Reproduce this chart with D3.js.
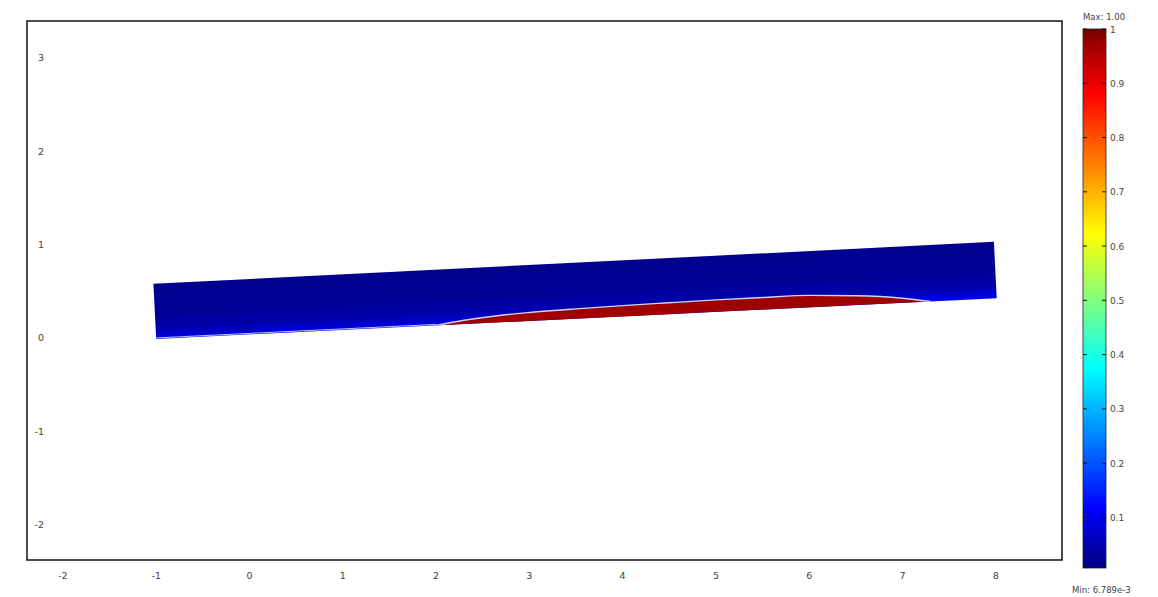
<!DOCTYPE html>
<html>
<head>
<meta charset="utf-8">
<script src="https://cdn.jsdelivr.net/npm/d3@7"></script>
<style>
  body { margin: 0; background: #fff; }
  svg { display: block; font-family: "DejaVu Sans", sans-serif; }
</style>
</head>
<body>
<svg id="chart" width="1158" height="597"></svg>
<script>
// ---------- data ----------
const xTicks = [-2, -1, 0, 1, 2, 3, 4, 5, 6, 7, 8];
const yTicks = [-2, -1, 0, 1, 2, 3];
const xDomain = [-2.385, 8.71];
const yDomain = [-2.377, 3.394];

// beam corners (data coords): top-left, top-right, bottom-right, bottom-left
const beamX = [-1.03, 7.98, 8.01, -1.00];
const beamY = [0.58, 1.03, 0.425, -0.01];

// field value across the beam thickness (0 = top edge, 1 = bottom edge)
const profilePos = [0, 0.5, 0.8, 0.93, 1];
const profileVal = [0.02, 0.025, 0.045, 0.08, 0.11];

// high-value layer along the bottom edge: x positions and thickness (data units)
const layerX = [2.0, 2.3, 2.7, 3.0, 3.5, 4.0, 4.5, 5.0, 5.5, 6.0, 6.5, 7.0, 7.3];
const layerT = [0.0, 0.04, 0.075, 0.09, 0.105, 0.115, 0.122, 0.128, 0.13, 0.128, 0.1, 0.05, 0.0];
const layerVal = 0.97;

const cMin = 0.006789, cMax = 1.0;
const cbTicks = [0.1, 0.2, 0.3, 0.4, 0.5, 0.6, 0.7, 0.8, 0.9, 1];

// ---------- scales ----------
const svg = d3.select("#chart");
const x = d3.scaleLinear().domain(xDomain).range([27, 1062]);
const y = d3.scaleLinear().domain(yDomain).range([560, 21]);

const jet = d3.scaleLinear()
  .domain([0, 0.11, 0.37, 0.62, 0.88, 0.97, 1])
  .range(["#000080", "#0000ff", "#00ffff", "#ffff00", "#ff0000", "#a00000", "#700000"])
  .interpolate(d3.interpolateRgb);
const color = v => jet((v - cMin) / (cMax - cMin));

// ---------- plot frame ----------
const defs = svg.append("defs");
defs.append("clipPath").attr("id", "plotclip")
  .append("rect").attr("x", 27).attr("y", 21).attr("width", 1035).attr("height", 539);

const plot = svg.append("g").attr("clip-path", "url(#plotclip)");

// beam gradient (perpendicular to beam)
const topMid = [(beamX[0] + beamX[1]) / 2, (beamY[0] + beamY[1]) / 2];
const botMid = [(beamX[3] + beamX[2]) / 2, (beamY[3] + beamY[2]) / 2];
const grad = defs.append("linearGradient").attr("id", "beamGrad")
  .attr("gradientUnits", "userSpaceOnUse")
  .attr("x1", x(topMid[0])).attr("y1", y(topMid[1]))
  .attr("x2", x(botMid[0])).attr("y2", y(botMid[1]));
profilePos.forEach((p, i) => {
  grad.append("stop").attr("offset", p).attr("stop-color", color(profileVal[i]));
});

const beamPts = beamX.map((bx, i) => [x(bx), y(beamY[i])]);
plot.append("path")
  .attr("d", d3.line()(beamPts) + "Z")
  .attr("fill", "url(#beamGrad)");

// bottom edge line: interpolate y on the edge from bottom-left to bottom-right
const edgeY = d3.scaleLinear().domain([beamX[3], beamX[2]]).range([beamY[3], beamY[2]]);
const bottomPts = layerX.map(lx => [x(lx), y(edgeY(lx))]);
const topPts = layerX.map((lx, i) => [x(lx), y(edgeY(lx) + layerT[i])]);

plot.append("path")
  .attr("d", d3.line().curve(d3.curveMonotoneX)(topPts) + "L" + d3.line()(bottomPts.slice().reverse()).slice(1) + "Z")
  .attr("fill", color(layerVal));

// interface line
plot.append("path")
  .attr("d", d3.line().curve(d3.curveMonotoneX)(topPts))
  .attr("fill", "none")
  .attr("stroke", "#c8d8f8")
  .attr("stroke-width", 1.4);

// lighter line along bottom-left edge
plot.append("path")
  .attr("d", d3.line()([[x(beamX[3]), y(edgeY(beamX[3])) - 1], [x(layerX[0]), y(edgeY(layerX[0])) - 1]]))
  .attr("stroke", "#b8c8f0").attr("stroke-width", 1).attr("fill", "none");

svg.append("rect")
  .attr("x", 27).attr("y", 21).attr("width", 1035).attr("height", 539)
  .attr("fill", "none").attr("stroke", "#111").attr("stroke-width", 1.5);

// axis labels
svg.append("g").selectAll("text").data(xTicks).join("text")
  .attr("x", d => x(d)).attr("y", 579)
  .attr("text-anchor", "middle")
  .attr("font-size", 9.5).attr("fill", "#444")
  .text(d => d);

svg.append("g").selectAll("text").data(yTicks).join("text")
  .attr("x", 44).attr("y", d => y(d) + 3.5)
  .attr("text-anchor", "end")
  .attr("font-size", 9.5).attr("fill", "#444")
  .text(d => d);

// ---------- colorbar ----------
const cb = d3.scaleLinear().domain([cMin, cMax]).range([568, 29]);
const cbGrad = defs.append("linearGradient").attr("id", "cbGrad")
  .attr("x1", 0).attr("y1", 1).attr("x2", 0).attr("y2", 0);
d3.range(0, 1.0001, 0.01).forEach(t => {
  cbGrad.append("stop").attr("offset", t).attr("stop-color", jet(t));
});
const cbX = 1083, cbW = 23;
svg.append("rect")
  .attr("x", cbX).attr("y", cb(cMax)).attr("width", cbW).attr("height", cb(cMin) - cb(cMax))
  .attr("fill", "url(#cbGrad)").attr("stroke", "#222").attr("stroke-width", 0.8);

const cbt = svg.append("g");
cbt.selectAll("line.l").data(cbTicks).join("line")
  .attr("x1", cbX).attr("x2", cbX + 4)
  .attr("y1", d => cb(d)).attr("y2", d => cb(d))
  .attr("stroke", "#111").attr("stroke-width", 1);
cbt.selectAll("line.r").data(cbTicks).join("line")
  .attr("x1", cbX + cbW - 4).attr("x2", cbX + cbW)
  .attr("y1", d => cb(d)).attr("y2", d => cb(d))
  .attr("stroke", "#111").attr("stroke-width", 1);
cbt.selectAll("text").data(cbTicks).join("text")
  .attr("x", cbX + cbW + 4).attr("y", d => cb(d) + 3.5)
  .attr("font-size", 9).attr("fill", "#444")
  .text(d => d3.format("~g")(d));

svg.append("text").attr("x", cbX).attr("y", 20)
  .attr("font-size", 8.5).attr("fill", "#444").text("Max: " + d3.format(".2f")(cMax));
svg.append("text").attr("x", 1072).attr("y", 593)
  .attr("font-size", 8.5).attr("fill", "#444").text("Min: 6.789e-3");
</script>
</body>
</html>
